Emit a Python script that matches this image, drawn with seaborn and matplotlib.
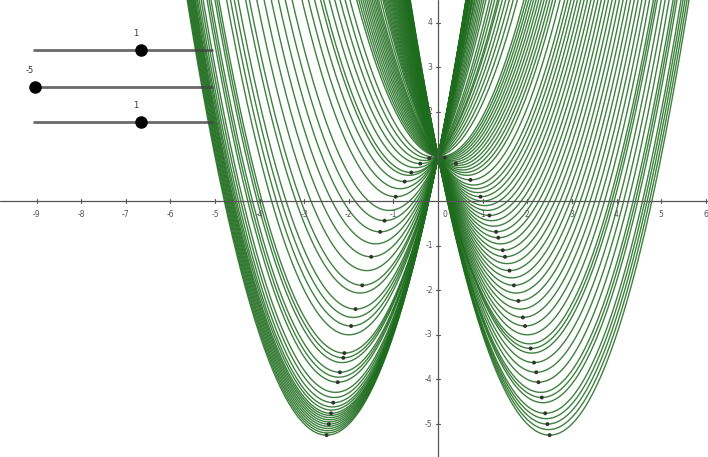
import numpy as np
import matplotlib
matplotlib.use("Agg")
import matplotlib.pyplot as plt
import seaborn as sns

# slider values a, b, c (GeoGebra style), slider range -5..5
slider_values = [1, -5, 1]
slider_min, slider_max = -5, 5

# coefficient b of the traced parabolas y = a*x^2 + b*x + c
b_left = [5.0, 4.98, 4.96, 4.94, 4.92, 4.9, 4.88, 4.86, 4.84, 4.82, 4.8, 4.77,
          4.74, 4.7, 4.65, 4.6, 4.5, 4.45, 4.4, 4.3, 4.25, 4.2, 4.0, 3.9, 3.8,
          3.7, 3.5, 3.4, 3.2, 3.0, 2.8, 2.6, 2.4, 2.2, 1.9, 1.7, 1.5, 1.3, 1.2,
          1.0, 0.8, 0.6, 0.4, 0.2]
b_right = [-0.1, -0.2, -0.3, -0.4, -0.5, -0.6, -0.7, -0.8, -0.9, -1.0, -1.1,
           -1.2, -1.3, -1.45, -1.6, -1.7, -1.8, -1.9, -2.0, -2.1, -2.2, -2.3,
           -2.4, -2.5, -2.6, -2.7, -2.8, -2.9, -3.0, -3.1, -3.2, -3.3, -3.4,
           -3.5, -3.6, -3.7, -3.8, -3.9, -4.0, -4.1, -4.15, -4.2, -4.3, -4.4,
           -4.5, -4.6, -4.65, -4.7, -4.8, -4.85, -4.9, -4.95, -5.0]
# b values whose vertex was marked with a point
b_dots = [5.0, 4.9, 4.8, 4.7, 4.5, 4.4, 4.25, 4.2, 3.9, 3.7, 3.4, 3.0, 2.6, 2.4,
          1.9, 1.5, 1.2, 0.8, 0.4,
          -0.3, -0.8, -1.45, -1.9, -2.3, -2.6, -2.7, -2.9, -3.0, -3.2, -3.4,
          -3.6, -3.8, -3.9, -4.15, -4.3, -4.4, -4.5, -4.65, -4.8, -4.9, -5.0]

x_ticks = [-9, -8, -7, -6, -5, -4, -3, -2, -1, 1, 2, 3, 4, 5, 6]
y_ticks = [-5, -4, -3, -2, -1, 1, 2, 3, 4]

a, b_now, c = slider_values

sns.set_style("white")
fig = plt.figure(figsize=(7.08, 4.57), dpi=100)
ax = fig.add_axes([0, 0, 1, 1])
ax.set_xlim(-9.82, 6.05)
ax.set_ylim(-5.74, 4.51)

xs = np.linspace(-9.82, 6.05, 800)
for b in b_left + b_right:
    sns.lineplot(x=xs, y=a * xs**2 + b * xs + c, ax=ax, color="#1d6b1d",
                 lw=1.0, alpha=0.85, zorder=2)

vx = [-b / (2 * a) for b in b_dots]
vy = [c - b * b / (4 * a) for b in b_dots]
sns.scatterplot(x=vx, y=vy, ax=ax, color="#333333", s=8, edgecolor="none",
                zorder=4)

# GeoGebra-like axes through the origin
ax.axhline(0, color="#555555", lw=0.9, zorder=3)
ax.axvline(0, color="#555555", lw=0.9, zorder=3)
for t in x_ticks:
    ax.plot([t, t], [-0.05, 0.05], color="#555555", lw=0.8, zorder=3)
    ax.text(t, -0.2, str(t), ha="center", va="top", fontsize=5.5,
            color="#555555", zorder=5)
for t in y_ticks:
    ax.plot([-0.05, 0.05], [t, t], color="#555555", lw=0.8, zorder=3)
    ax.text(-0.12, t, str(t), ha="right", va="center", fontsize=5.5,
            color="#555555", zorder=5)
ax.text(0.1, -0.2, "0", ha="left", va="top", fontsize=5.5, color="#555555",
        zorder=5)
ax.set_xticks([])
ax.set_yticks([])
for s in ax.spines.values():
    s.set_visible(False)

# sliders drawn in pixel space
sl = fig.add_axes([0, 0, 1, 1], facecolor="none")
sl.set_xlim(0, 708)
sl.set_ylim(457, 0)
sl.axis("off")
track_x0, track_x1 = 33, 213
for v, y in zip(slider_values, [50, 87, 122]):
    sl.plot([track_x0, track_x1], [y, y], color="#444444", lw=2.0, alpha=0.8,
            solid_capstyle="butt", zorder=6)
    px = track_x0 + (v - slider_min) / (slider_max - slider_min) * (track_x1 - track_x0)
    px = max(px, track_x0 + 2)
    sl.plot(px, y, "o", color="black", ms=8, zorder=7)
    sl.text(px - 5, y - 12, str(v), ha="center", va="bottom", fontsize=6,
            color="#333333", zorder=7)

fig.savefig("out.png", dpi=100)
